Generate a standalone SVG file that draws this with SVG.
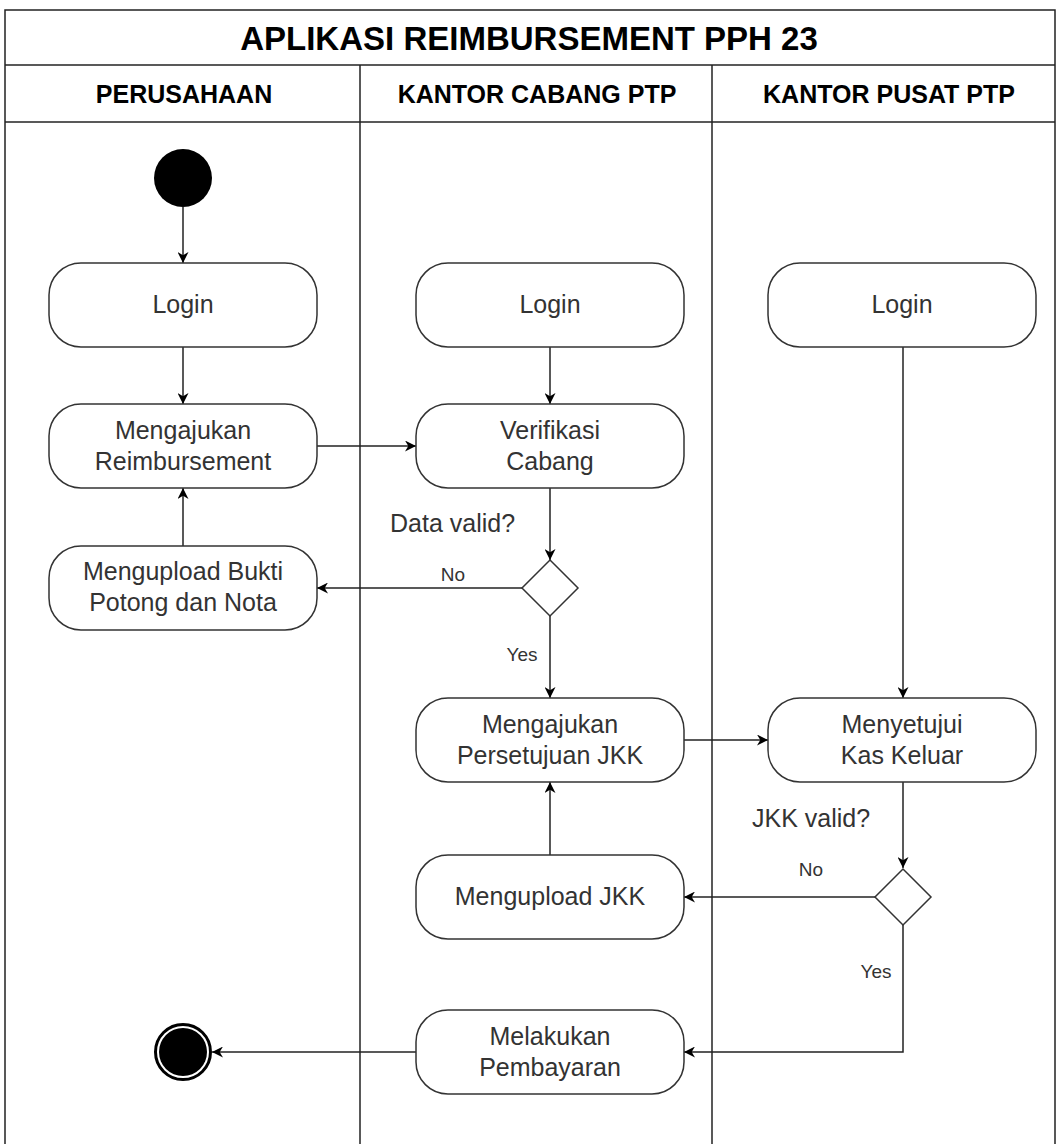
<svg xmlns="http://www.w3.org/2000/svg" width="1056" height="1144" viewBox="0 0 1056 1144">
  <style>
    .lane { fill: none; stroke: #222; stroke-width: 1.5; }
    .title { font-family: "Liberation Sans", Arial, sans-serif; font-size: 33px; font-weight: bold; fill: #000; text-anchor: middle; }
    .head { font-family: "Liberation Sans", Arial, sans-serif; font-size: 25px; font-weight: bold; fill: #000; text-anchor: middle; }
    .act { fill: #fff; stroke: #333; stroke-width: 1.5; }
    .txt { font-family: "Liberation Sans", Arial, sans-serif; font-size: 25px; fill: #333; text-anchor: middle; }
    .lbl { font-family: "Liberation Sans", Arial, sans-serif; font-size: 25px; fill: #333; }
    .small { font-family: "Liberation Sans", Arial, sans-serif; font-size: 19px; fill: #333; text-anchor: middle; }
    .edge { fill: none; stroke: #222; stroke-width: 1.5; }
    .dec { fill: #fff; stroke: #333; stroke-width: 1.5; }
  </style>
  <defs>
    <marker id="arrow" viewBox="0 0 10 10" refX="10" refY="5" markerWidth="11" markerHeight="11" markerUnits="userSpaceOnUse" orient="auto">
      <path d="M0,0 L10,5 L0,10 L3,5 z" fill="#000"/>
    </marker>
  </defs>

  <rect width="1056" height="1144" fill="#fff"/>

  <!-- Swimlane frame -->
  <g id="pool">
    <path class="lane" d="M5,1144 V10 H1055 V1144"/>
    <line class="lane" x1="5" y1="65" x2="1055" y2="65"/>
    <line class="lane" x1="5" y1="122" x2="1055" y2="122"/>
    <line class="lane" x1="360" y1="65" x2="360" y2="1144"/>
    <line class="lane" x1="712" y1="65" x2="712" y2="1144"/>
    <text class="title" x="529" y="50">APLIKASI REIMBURSEMENT PPH 23</text>
    <text class="head" x="184" y="103">PERUSAHAAN</text>
    <text class="head" x="537" y="103">KANTOR CABANG PTP</text>
    <text class="head" x="889" y="103">KANTOR PUSAT PTP</text>
  </g>

  <!-- Connectors -->
  <g id="connectors">
    <line class="edge" x1="183" y1="207" x2="183" y2="263" marker-end="url(#arrow)"/>
    <line class="edge" x1="183" y1="347" x2="183" y2="404" marker-end="url(#arrow)"/>
    <line class="edge" x1="550" y1="347" x2="550" y2="404" marker-end="url(#arrow)"/>
    <line class="edge" x1="317" y1="446" x2="416" y2="446" marker-end="url(#arrow)"/>
    <line class="edge" x1="550" y1="488" x2="550" y2="560" marker-end="url(#arrow)"/>
    <line class="edge" x1="522" y1="588" x2="317" y2="588" marker-end="url(#arrow)"/>
    <line class="edge" x1="183" y1="546" x2="183" y2="488" marker-end="url(#arrow)"/>
    <line class="edge" x1="550" y1="616" x2="550" y2="698" marker-end="url(#arrow)"/>
    <line class="edge" x1="903" y1="347" x2="903" y2="698" marker-end="url(#arrow)"/>
    <line class="edge" x1="684" y1="740" x2="768" y2="740" marker-end="url(#arrow)"/>
    <line class="edge" x1="903" y1="782" x2="903" y2="868" marker-end="url(#arrow)"/>
    <line class="edge" x1="875" y1="897" x2="684" y2="897" marker-end="url(#arrow)"/>
    <line class="edge" x1="550" y1="855" x2="550" y2="782" marker-end="url(#arrow)"/>
    <polyline class="edge" points="903,925 903,1052 684,1052" marker-end="url(#arrow)"/>
    <line class="edge" x1="416" y1="1052" x2="212" y2="1052" marker-end="url(#arrow)"/>
    <text class="lbl" x="390" y="532">Data valid?</text>
    <text class="small" x="453" y="581">No</text>
    <text class="small" x="522" y="661">Yes</text>
    <text class="lbl" x="752" y="827">JKK valid?</text>
    <text class="small" x="811" y="876">No</text>
    <text class="small" x="876" y="978">Yes</text>
  </g>

  <!-- Perusahaan lane -->
  <g id="start">
    <circle cx="183" cy="178" r="29" fill="#000"/>
  </g>
  <g id="login-perusahaan">
    <rect class="act" x="49" y="263" width="268" height="84" rx="32"/>
    <text class="txt" x="183" y="313">Login</text>
  </g>
  <g id="mengajukan-reimbursement">
    <rect class="act" x="49" y="404" width="268" height="84" rx="32"/>
    <text class="txt" x="183" y="439">Mengajukan</text>
    <text class="txt" x="183" y="470">Reimbursement</text>
  </g>
  <g id="mengupload-bukti">
    <rect class="act" x="49" y="546" width="268" height="84" rx="32"/>
    <text class="txt" x="183" y="580">Mengupload Bukti</text>
    <text class="txt" x="183" y="611">Potong dan Nota</text>
  </g>
  <g id="end">
    <circle cx="183" cy="1052" r="27.5" fill="#fff" stroke="#000" stroke-width="3"/>
    <circle cx="183" cy="1052" r="24" fill="#000"/>
  </g>

  <!-- Kantor Cabang lane -->
  <g id="login-cabang">
    <rect class="act" x="416" y="263" width="268" height="84" rx="32"/>
    <text class="txt" x="550" y="313">Login</text>
  </g>
  <g id="verifikasi-cabang">
    <rect class="act" x="416" y="404" width="268" height="84" rx="32"/>
    <text class="txt" x="550" y="439">Verifikasi</text>
    <text class="txt" x="550" y="470">Cabang</text>
  </g>
  <g id="data-valid">
    <polygon class="dec" points="550,560 578,588 550,616 522,588"/>
  </g>
  <g id="persetujuan-jkk">
    <rect class="act" x="416" y="698" width="268" height="84" rx="32"/>
    <text class="txt" x="550" y="733">Mengajukan</text>
    <text class="txt" x="550" y="764">Persetujuan JKK</text>
  </g>
  <g id="mengupload-jkk">
    <rect class="act" x="416" y="855" width="268" height="84" rx="32"/>
    <text class="txt" x="550" y="905">Mengupload JKK</text>
  </g>
  <g id="pembayaran">
    <rect class="act" x="416" y="1010" width="268" height="84" rx="32"/>
    <text class="txt" x="550" y="1045">Melakukan</text>
    <text class="txt" x="550" y="1076">Pembayaran</text>
  </g>

  <!-- Kantor Pusat lane -->
  <g id="login-pusat">
    <rect class="act" x="768" y="263" width="268" height="84" rx="32"/>
    <text class="txt" x="902" y="313">Login</text>
  </g>
  <g id="menyetujui-kas">
    <rect class="act" x="768" y="698" width="268" height="84" rx="32"/>
    <text class="txt" x="902" y="733">Menyetujui</text>
    <text class="txt" x="902" y="764">Kas Keluar</text>
  </g>
  <g id="jkk-valid">
    <polygon class="dec" points="903,869 931,897 903,925 875,897"/>
  </g>
</svg>
